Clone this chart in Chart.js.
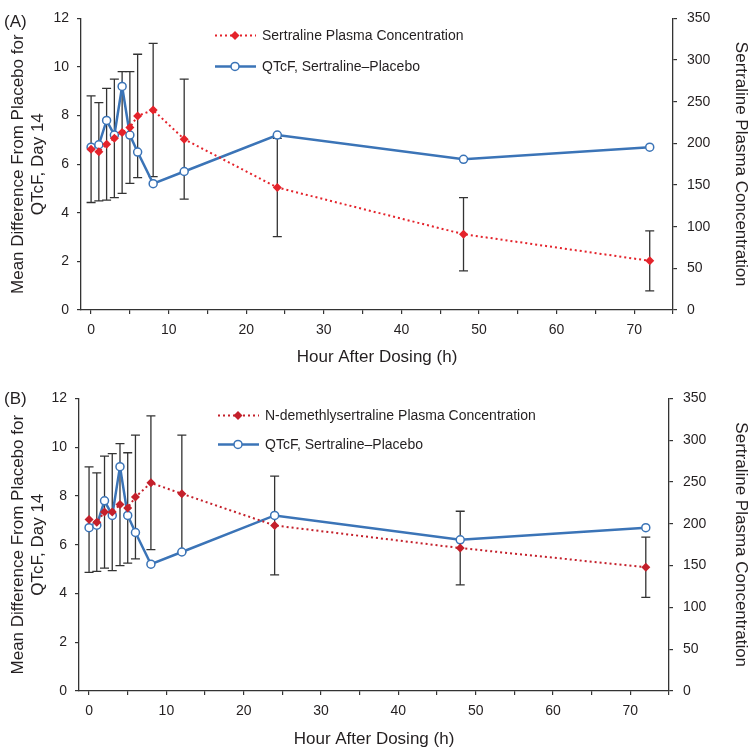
<!DOCTYPE html>
<html>
<head>
<meta charset="utf-8">
<script src="https://cdn.jsdelivr.net/npm/chart.js@4/dist/chart.umd.min.js"></script>
<style>
    body { margin: 0; background: #fff; width: 753px; height: 751px; position: relative; overflow: hidden; }
    .panel { position: absolute; left: 0; width: 753px; }
</style>
</head>
<body>
<div class="panel" style="top:0;height:372px"><canvas id="chartA"></canvas></div>
<div class="panel" style="top:380px;height:371px"><canvas id="chartB"></canvas></div>
<script>
// hours after dosing
const hours = [0, 1, 2, 3, 4, 5, 6, 8, 12, 24, 48, 72];
// QTcF, sertraline minus placebo (left axis)
const qtcfDiff = [6.7, 6.8, 7.8, 7.2, 9.2, 7.2, 6.5, 5.2, 5.7, 7.2, 6.2, 6.7];
// panel A: sertraline plasma concentration, mean and SD (right axis)
const sertralineConc = [193, 190, 199, 206, 213, 219, 233, 240, 205, 147, 91, 59];
const sertralineSD = [64, 59, 67, 71, 73, 67, 74, 80, 72, 59, 44, 36];
// panel B: N-demethylsertraline plasma concentration, mean and SD
const demethylConc = [205, 202, 214, 214, 223, 219, 232, 249, 236, 198, 171, 148];
const demethylSD = [63, 59, 67, 70, 73, 66, 74, 80, 70, 59, 44, 36];

const xTicks = [0, 5, 10, 15, 20, 25, 30, 35, 40, 45, 50, 55, 60, 65, 70, 75];
const leftTicks = [0, 2, 4, 6, 8, 10, 12];
const rightTicks = [0, 50, 100, 150, 200, 250, 300, 350];

const FONT = '"Liberation Sans", Arial, sans-serif';
const INK = '#231f20';
const AXIS = '#333';
const BLUE = '#3b74b7';

const errorBarPlugin = {
    id: 'errorBars',
    beforeDatasetsDraw(chart, args, opts) {
        const {ctx} = chart;
        const xs = chart.scales.x;
        const ys = chart.scales.y2;
        ctx.save();
        ctx.strokeStyle = AXIS;
        ctx.lineWidth = 1.3;
        opts.mean.forEach((m, i) => {
            const x = xs.getPixelForValue(hours[i]);
            const top = ys.getPixelForValue(m + opts.sd[i]);
            const bot = ys.getPixelForValue(m - opts.sd[i]);
            ctx.beginPath();
            ctx.moveTo(x, top); ctx.lineTo(x, bot);
            ctx.moveTo(x - 4.5, top); ctx.lineTo(x + 4.5, top);
            ctx.moveTo(x - 4.5, bot); ctx.lineTo(x + 4.5, bot);
            ctx.stroke();
        });
        ctx.restore();
    }
};

const legendPlugin = {
    id: 'boxLegend',
    afterDraw(chart, args, opts) {
        const {ctx, chartArea} = chart;
        const x0 = chartArea.left + opts.dx;
        const rows = [chartArea.top + opts.dy[0], chartArea.top + opts.dy[1]];
        const mid = x0 + 20;
        ctx.save();
        // concentration entry
        ctx.strokeStyle = opts.red;
        ctx.lineWidth = 2;
        ctx.setLineDash([2, 3]);
        ctx.beginPath();
        ctx.moveTo(x0, rows[0]); ctx.lineTo(x0 + 41, rows[0]);
        ctx.stroke();
        ctx.setLineDash([]);
        ctx.fillStyle = opts.red;
        ctx.beginPath();
        ctx.moveTo(mid, rows[0] - 4.5); ctx.lineTo(mid + 4.5, rows[0]);
        ctx.lineTo(mid, rows[0] + 4.5); ctx.lineTo(mid - 4.5, rows[0]);
        ctx.closePath();
        ctx.fill();
        // QTcF entry
        ctx.strokeStyle = BLUE;
        ctx.lineWidth = 2.5;
        ctx.beginPath();
        ctx.moveTo(x0, rows[1]); ctx.lineTo(x0 + 41, rows[1]);
        ctx.stroke();
        ctx.fillStyle = '#fff';
        ctx.lineWidth = 1.5;
        ctx.beginPath();
        ctx.arc(mid, rows[1], 4, 0, Math.PI * 2);
        ctx.fill(); ctx.stroke();
        // texts
        ctx.fillStyle = INK;
        ctx.font = '14px ' + FONT;
        ctx.textBaseline = 'middle';
        ctx.fillText(opts.concLabel, x0 + 47, rows[0] + 1);
        ctx.fillText('QTcF, Sertraline\u2013Placebo', x0 + 47, rows[1] + 1);
        // panel tag
        ctx.font = '17px ' + FONT;
        ctx.fillText(opts.tag, 4, chartArea.top + opts.tagDy);
        ctx.restore();
    }
};

function drawPanel(canvasId, p)
{
    const conc = hours.map((h, i) => ({x: h, y: p.conc[i]}));
    const qtcf = hours.map((h, i) => ({x: h, y: qtcfDiff[i]}));
    const tickFont = {family: FONT, size: 14};
    const titleFont = {family: FONT, size: 17};
    const grid = {display: true, drawOnChartArea: false, drawTicks: true, tickLength: 4, color: AXIS, lineWidth: 1.2};
    const border = {display: true, color: AXIS, width: 1.3};

    const config = {
        type: 'line',
        data: {
            datasets: [
                {
                    label: p.concLabel,
                    data: conc,
                    yAxisID: 'y2',
                    borderColor: p.red,
                    backgroundColor: p.red,
                    borderWidth: 2,
                    borderDash: [2, 3],
                    pointStyle: 'rectRot',
                    pointRadius: 4.5,
                    pointBorderWidth: 0,
                    pointBackgroundColor: p.red,
                },
                {
                    label: 'QTcF, Sertraline\u2013Placebo',
                    data: qtcf,
                    yAxisID: 'y',
                    borderColor: BLUE,
                    borderWidth: 2.5,
                    pointStyle: 'circle',
                    pointRadius: 4,
                    pointBorderWidth: 1.5,
                    pointBackgroundColor: '#fff',
                    pointBorderColor: BLUE,
                }]
        },
        options: {
            responsive: true,
            maintainAspectRatio: false,
            animation: false,
            layout: {
                padding: {top: 10, left: 0, right: 0, bottom: 0}
            },
            plugins: {
                legend: {display: false},
                tooltip: {enabled: false},
                errorBars: {mean: p.conc, sd: p.sd},
                boxLegend: {red: p.red, concLabel: p.concLabel, dx: p.legendDx, dy: p.legendDy, tag: p.tag, tagDy: p.tagDy},
            },
            scales: {
                x: {
                    type: 'linear',
                    min: -1.3,
                    max: 75,
                    afterBuildTicks: (s) => { s.ticks = xTicks.map(v => ({value: v})); },
                    afterFit: (s) => { s.height = p.xHeight; },
                    grid: grid,
                    border: border,
                    ticks: {
                        color: INK,
                        font: tickFont,
                        padding: 8,
                        maxRotation: 0,
                        autoSkip: false,
                        callback: (v) => (v % 10 === 0 ? v : ''),
                    },
                    title: {
                        display: true,
                        text: 'Hour After Dosing (h)',
                        color: INK,
                        font: titleFont,
                        padding: {top: 4, bottom: p.xTitlePad},
                    },
                },
                y: {
                    type: 'linear',
                    position: 'left',
                    min: 0,
                    max: 12,
                    afterBuildTicks: (s) => { s.ticks = leftTicks.map(v => ({value: v})); },
                    afterFit: (s) => { s.width = p.leftW; },
                    grid: grid,
                    border: border,
                    ticks: {color: INK, font: tickFont, padding: 8},
                    title: {
                        display: true,
                        text: ['Mean Difference From Placebo for', 'QTcF, Day 14'],
                        color: INK,
                        font: titleFont,
                        padding: {top: 8, bottom: 0},
                    },
                },
                y2: {
                    type: 'linear',
                    position: 'right',
                    min: 0,
                    max: 350,
                    afterBuildTicks: (s) => { s.ticks = rightTicks.map(v => ({value: v})); },
                    afterFit: (s) => { s.width = p.rightW; },
                    grid: grid,
                    border: border,
                    ticks: {color: INK, font: tickFont, padding: 10},
                    title: {
                        display: true,
                        text: 'Sertraline Plasma Concentration',
                        color: INK,
                        font: titleFont,
                        padding: {top: 2, bottom: 0},
                    },
                },
            }
        },
        plugins: [errorBarPlugin, legendPlugin],
    };

    const ctx = document.getElementById(canvasId).getContext('2d');
    if (ctx) {
        new Chart(ctx, config);
    }
}

drawPanel('chartA', {
    conc: sertralineConc,
    sd: sertralineSD,
    concLabel: 'Sertraline Plasma Concentration',
    red: '#e4232b',
    tag: '(A)',
    tagDy: 4,
    legendDx: 134,
    legendDy: [17, 48],
    leftW: 81,
    rightW: 80,
    xHeight: 62,
    xTitlePad: 4,
});

drawPanel('chartB', {
    conc: demethylConc,
    sd: demethylSD,
    concLabel: 'N-demethlysertraline Plasma Concentration',
    red: '#c4202b',
    tag: '(B)',
    tagDy: 1,
    legendDx: 139,
    legendDy: [17, 46],
    leftW: 79,
    rightW: 84,
    xHeight: 60,
    xTitlePad: 1,
});
</script>
</body>
</html>
